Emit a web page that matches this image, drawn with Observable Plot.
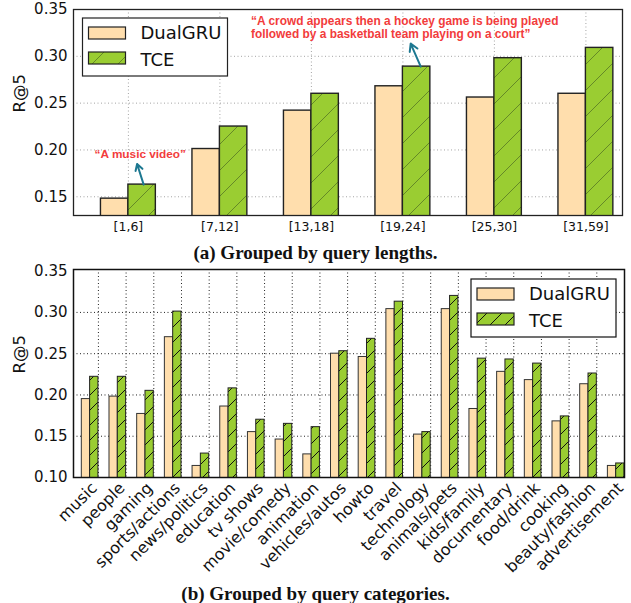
<!DOCTYPE html>
<html><head><meta charset="utf-8">
<script src="https://cdn.jsdelivr.net/npm/d3@7"></script>
<script src="https://cdn.jsdelivr.net/npm/@observablehq/plot@0.6"></script>
<style>
body{margin:0;background:#fff;width:631px;height:603px;position:relative;overflow:hidden;font-family:"DejaVu Sans";}
#a{position:absolute;left:0;top:0;}
#b{position:absolute;left:0;top:260px;}
.cap{position:absolute;left:0;width:631px;text-align:center;font-family:"Liberation Serif",serif;font-weight:bold;font-size:19px;line-height:22px;color:#111;}
</style></head><body>
<div id="a"></div>
<div class="cap" style="top:242px">(a) Grouped by query lengths.</div>
<div id="b"></div>
<div class="cap" style="top:583px">(b) Grouped by query categories.</div>
<script>
// ---- data ----
const seriesNames = ["DualGRU", "TCE"];
const lengthGroups = ["[1,6]", "[7,12]", "[13,18]", "[19,24]", "[25,30]", "[31,59]"];
const lenDualGRU = [0.148, 0.201, 0.242, 0.268, 0.256, 0.260];
const lenTCE = [0.163, 0.225, 0.260, 0.289, 0.298, 0.309];
const categories = ["music", "people", "gaming", "sports/actions", "news/politics", "education", "tv shows", "movie/comedy", "animation", "vehicles/autos", "howto", "travel", "technology", "animals/pets", "kids/family", "documentary", "food/drink", "cooking", "beauty/fashion", "advertisement"];
const catDualGRU = [0.195, 0.198, 0.177, 0.270, 0.114, 0.186, 0.155, 0.146, 0.128, 0.250, 0.246, 0.304, 0.152, 0.304, 0.183, 0.228, 0.218, 0.168, 0.213, 0.114];
const catTCE = [0.222, 0.222, 0.205, 0.301, 0.129, 0.208, 0.170, 0.165, 0.161, 0.253, 0.268, 0.313, 0.155, 0.320, 0.244, 0.243, 0.238, 0.174, 0.226, 0.117];
const annotations = ["“A music video”", "“A crowd appears then a hockey game is being played\nfollowed by a basketball team playing on a court”"];

const peach = "#ffdead", green = "#9acd32", red = "#f23c3c", teal = "#1d7891";
const fmt = d3.format(".2f");

function addDefs(svg, id, size, stroke, sw) {
  const ns = "http://www.w3.org/2000/svg";
  const defs = document.createElementNS(ns, "defs");
  defs.innerHTML = `<pattern id="${id}" patternUnits="userSpaceOnUse" width="${size}" height="${size}">
    <rect width="${size}" height="${size}" fill="${green}"/>
    <path d="M0,${size} L${size},0 M${-size/2},${size/2} L${size/2},${-size/2} M${size/2},${size*1.5} L${size*1.5},${size/2}" stroke="${stroke}" stroke-width="${sw}" fill="none"/>
  </pattern>`;
  svg.insertBefore(defs, svg.firstChild);
}
function addLegend(svg, box, hatchId, frameStroke) {
  const g = d3.select(svg).append("g").attr("font-family", "DejaVu Sans").attr("font-size", 18).attr("text-anchor", "start");
  g.append("rect").attr("x", box.x).attr("y", box.y).attr("width", 145).attr("height", 58)
    .attr("fill", "white").attr("stroke", frameStroke).attr("stroke-width", 1.2);
  seriesNames.forEach((name, k) => {
    g.append("rect").attr("x", box.x + 6).attr("y", box.y + 9 + k * 25).attr("width", 37).attr("height", 12)
      .attr("fill", k ? `url(#${hatchId})` : peach).attr("stroke", "#222").attr("stroke-width", 1.2);
    g.append("text").attr("x", box.x + 58).attr("y", box.y + 15 + k * 26.5).attr("dy", "0.36em").attr("fill", "#111").text(name);
  });
}

// ---- chart A ----
const lenIdx = d3.range(lengthGroups.length);
const chartA = Plot.plot({
  width: 631, height: 236, marginTop: 9, marginBottom: 21, marginLeft: 73, marginRight: 9,
  style: {fontFamily: "DejaVu Sans", background: "transparent", color: "#111"},
  x: {type: "linear", domain: [-0.6, 5.4]},
  y: {domain: [0.13, 0.35]},
  marks: [
    Plot.gridY([0.15, 0.20, 0.25, 0.30], {stroke: "#9a9a9a", strokeOpacity: 1, strokeDasharray: "1,2.5", strokeWidth: 0.9}),
    Plot.gridX(lenIdx, {stroke: "#9a9a9a", strokeOpacity: 1, strokeDasharray: "1,2.5", strokeWidth: 0.9}),
    Plot.rect(lenIdx, {x1: i => i - 0.3, x2: i => i, y1: 0, y2: i => lenDualGRU[i], fill: peach, stroke: "#222", strokeWidth: 1.4, clip: true}),
    Plot.rect(lenIdx, {x1: i => i, x2: i => i + 0.3, y1: 0, y2: i => lenTCE[i], fill: "url(#hatchA)", stroke: "#222", strokeWidth: 1.4, clip: true}),
    Plot.axisY({ticks: [0.15, 0.20, 0.25, 0.30, 0.35], tickFormat: fmt, tickSize: 0, tickPadding: 6, fontSize: 15, label: null}),
    Plot.axisX({ticks: lenIdx, tickFormat: i => lengthGroups[i], tickSize: 0, tickPadding: 7, fontSize: 12.5, label: null}),
    Plot.frame({stroke: "#222", strokeWidth: 1.3}),
    Plot.text(["R@5"], {frameAnchor: "left", dx: -54, rotate: -90, fontSize: 16.5, fill: "#111"}),
    Plot.arrow([0], {x1: 0.167, y1: lenTCE[0], x2: 0.095, y2: lenTCE[0] + 0.022, stroke: teal, strokeWidth: 2, headLength: 7}),
    Plot.arrow([3], {x1: 3.195, y1: lenTCE[3], x2: 3.085, y2: lenTCE[3] + 0.0246, stroke: teal, strokeWidth: 2, headLength: 7}),
    Plot.text([annotations[0]], {x: 0.13, y: 0.1955, fill: red, fontWeight: "bold", fontFamily: "Liberation Sans", fontSize: 11.8}),
    Plot.text([annotations[1]], {x: 1.34, y: 0.3313, textAnchor: "start", lineHeight: 1.15, fill: red, fontWeight: "bold", fontFamily: "Liberation Sans", fontSize: 11.9})
  ]
});
addDefs(chartA, "hatchA", 26, "#4d6b22", 0.7);
addLegend(chartA, {x: 82.5, y: 18}, "hatchA", "#222");
document.getElementById("a").appendChild(chartA);

// ---- chart B ----
const catIdx = d3.range(categories.length);
const chartB = Plot.plot({
  width: 631, height: 315, marginTop: 9, marginBottom: 98, marginLeft: 73, marginRight: 7,
  style: {fontFamily: "DejaVu Sans", background: "transparent", color: "#111"},
  x: {type: "linear", domain: [-0.9, 19]},
  y: {domain: [0.10, 0.352]},
  marks: [
    Plot.gridY([0.15, 0.20, 0.25, 0.30], {stroke: "#222", strokeOpacity: 1, strokeDasharray: "1,2.5", strokeWidth: 1}),
    Plot.gridX(catIdx, {stroke: "#222", strokeOpacity: 1, strokeDasharray: "1,2.5", strokeWidth: 1}),
    Plot.rect(catIdx, {x1: i => i - 0.6, x2: i => i - 0.3, y1: 0, y2: i => catDualGRU[i], fill: peach, stroke: "#333", strokeWidth: 1, clip: true}),
    Plot.rect(catIdx, {x1: i => i - 0.3, x2: i => i, y1: 0, y2: i => catTCE[i], fill: "url(#hatchB)", stroke: "#222", strokeWidth: 1, clip: true}),
    Plot.axisY({ticks: [0.10, 0.15, 0.20, 0.25, 0.30, 0.35], tickFormat: fmt, tickSize: 0, tickPadding: 6, fontSize: 15, label: null}),
    Plot.axisX({ticks: catIdx, tickFormat: i => categories[i], tickSize: 0, tickPadding: 8, tickRotate: -45, dx: -4, fontSize: 16, label: null}),
    Plot.frame({stroke: "#111", strokeWidth: 1.5}),
    Plot.text(["R@5"], {frameAnchor: "left", dx: -54, rotate: -90, fontSize: 16.5, fill: "#111"})
  ]
});
addDefs(chartB, "hatchB", 15, "#111", 1);
addLegend(chartB, {x: 471, y: 19}, "hatchB", "#111");
document.getElementById("b").appendChild(chartB);
</script>
</body></html>
